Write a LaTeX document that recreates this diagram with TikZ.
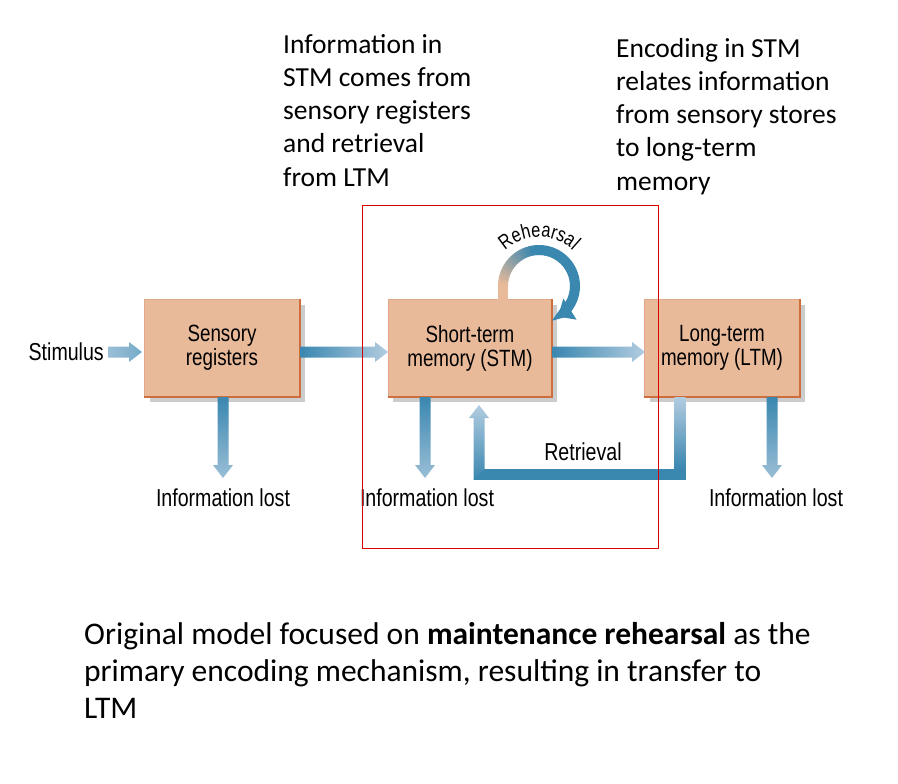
\documentclass[tikz,border=0pt]{standalone}
\usepackage{fontspec}
\setmainfont{Carlito}
\newfontfamily\narrow[FakeStretch=0.8]{Liberation Sans}
\usetikzlibrary{arrows.meta,decorations.text}
\definecolor{dblue}{RGB}{58,135,176}
\definecolor{lblue}{RGB}{178,204,224}
\definecolor{boxfill}{RGB}{232,186,154}
\definecolor{boxedge}{RGB}{205,110,60}
\definecolor{tan}{RGB}{232,186,154}
\newcommand\harr[5]{\shade[left color=#4,right color=#5] (#1,-#3+5.5) -- (#2-13,-#3+5.5) -- (#2-13,-#3+10) -- (#2,-#3) -- (#2-13,-#3-10) -- (#2-13,-#3-5.5) -- (#1,-#3-5.5) -- cycle;}
\newcommand\varr[5]{\shade[top color=#4,bottom color=#5] (#1-5.5,-#2) -- (#1-5.5,-#3+13) -- (#1-10,-#3+13) -- (#1,-#3) -- (#1+10,-#3+13) -- (#1+5.5,-#3+13) -- (#1+5.5,-#2) -- cycle;}
\tikzset{
  mbox/.style={fill=boxfill,draw=boxedge!60,line width=0.6pt,minimum height=97pt,inner sep=0pt,align=center,font=\narrow\fontsize{23.5}{24}\selectfont},
  lbl/.style={font=\narrow\fontsize{24.5}{25}\selectfont,inner sep=0pt},
  note/.style={font=\fontsize{27.5}{33.2}\selectfont,align=left,anchor=north west,inner sep=0pt}
}
\begin{document}
\begin{tikzpicture}[x=1pt,y=1pt]
\useasboundingbox (0,0) rectangle (898,-784);
\fill[white] (0,0) rectangle (898,-784);
% notes
\node[note] (n1) at (283,-34) {Information in\\STM comes from\\sensory registers\\and retrieval\\from LTM};
\node[note] (n2) at (616,-38) {Encoding in STM\\relates information\\from sensory stores\\to long-term\\memory};
\node[note,font=\fontsize{31.5}{37}\selectfont] (n3) at (84,-622) {Original model focused on \textbf{maintenance rehearsal} as the\\primary encoding mechanism, resulting in transfer to\\LTM};
% shadows
\foreach \cx/\w in {222/155,470/164,722/155}{
  \fill[black!20] (\cx-\w/2+5,-348-48.5-5) rectangle (\cx+\w/2+5,-348+48.5-5);
}
\node[mbox,minimum width=155pt] (sr) at (222,-348) {Sensory\\registers};
\node[mbox,minimum width=164pt] (stm) at (470,-348) {Short-term\\memory (STM)};
\node[mbox,minimum width=155pt] (ltm) at (722,-348) {Long-term\\memory (LTM)};
\foreach \n in {sr,stm,ltm}{
  \draw[boxedge,line width=2pt] (\n.south west) -- (\n.south east) -- (\n.north east);
}
% arrows
\node[lbl,anchor=east] (stim) at (104,-352) {Stimulus};
\harr{108}{142}{352}{lblue!80!dblue}{dblue!70}
\harr{300}{388}{352}{dblue}{lblue}
\harr{552}{645}{352}{dblue}{lblue}
\varr{223}{397}{478}{dblue}{lblue!80!dblue}
\varr{425}{397}{478}{dblue}{lblue!80!dblue}
\varr{772}{397}{478}{dblue}{lblue!80!dblue}
\node[lbl] (l1) at (223,-498) {Information lost};
\node[lbl] (l2) at (427,-498) {Information lost};
\node[lbl] (l3) at (776,-498) {Information lost};
% retrieval
\shade[top color=lblue,bottom color=dblue] (674.5,-397) rectangle (685.5,-469);
\fill[dblue] (473.5,-469) rectangle (685.5,-480);
\shade[top color=lblue,bottom color=dblue] (473.5,-480) -- (473.5,-418) -- (469,-418) -- (479,-405) -- (489,-418) -- (484.5,-418) -- (484.5,-469) -- cycle;
\node[lbl] (ret) at (583,-452) {Retrieval};
% rehearsal loop
\draw[tan,line width=10pt] (503,-301) -- (503,-286);
\foreach \a [evaluate=\a as \b using \a-5, evaluate=\a as \m using {max(0,min(100,(180-\a)*1.3))}] in {180,175,...,-35}{
  \draw[dblue!\m!tan,line width=10pt] (539,-286) ++(\a:36) arc (\a:\b-1:36);
}
\draw[dblue,line width=10pt,-{Triangle[width=24pt,length=14pt]}] (539,-286) ++(-40:36) arc (-40:-58:36);
\path[decorate,decoration={text along path,text align=center,text={|\narrow\fontsize{20.5}{21}\selectfont|Rehearsal}}] (539,-286) ++(165:49) arc (165:15:49);
% red frame
\draw[red!85!black,line width=1pt] (362,-205) rectangle (658,-548);
\end{tikzpicture}
\end{document}
